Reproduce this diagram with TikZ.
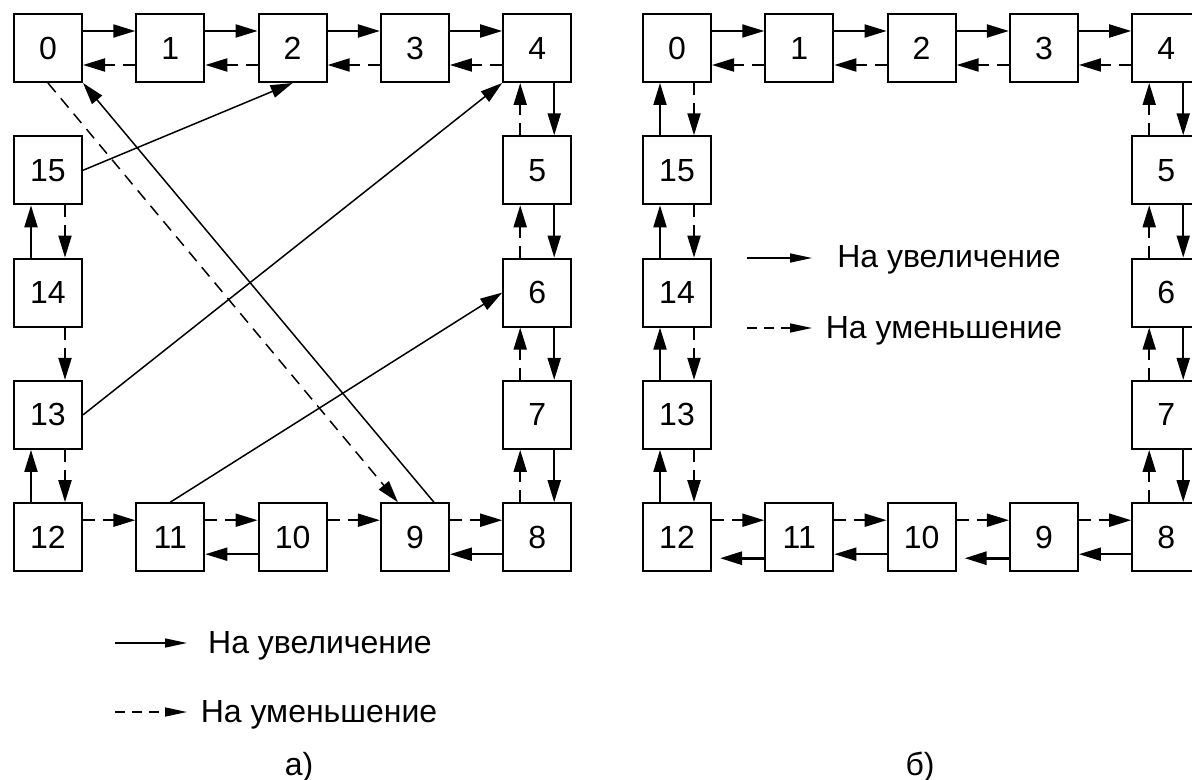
\documentclass[tikz,border=0pt]{standalone}
\usepackage{fontspec}
\setmainfont{Liberation Sans}
\usetikzlibrary{positioning}
\usetikzlibrary{arrows.meta}

\begin{document}
\begin{tikzpicture}[
  x=0.5pt,y=-0.5pt,node distance=26.15pt,
  font=\fontsize{16pt}{19pt}\selectfont,
  cell/.style={draw,line width=1pt,minimum size=34pt,inner sep=0pt},
  inc/.style={line width=1pt,-{Triangle[length=11pt,width=6.5pt]}},
  dec/.style={inc,dash pattern=on 6pt off 4pt},
  cross/.style={line width=0.75pt},
  key/.style={line width=0.75pt,-{Triangle[length=11pt,width=4.5pt]}}
  ]
  \useasboundingbox (0,0) rectangle (1192,780);
  % panel a)
  \node (a0)  [cell] at (48,48) {0};
  \node (a1)  [cell,right=of a0]  {1};
  \node (a2)  [cell,right=of a1]  {2};
  \node (a3)  [cell,right=of a2]  {3};
  \node (a4)  [cell,right=of a3]  {4};
  \node (a5)  [cell,below=of a4]  {5};
  \node (a6)  [cell,below=of a5]  {6};
  \node (a7)  [cell,below=of a6]  {7};
  \node (a8)  [cell,below=of a7]  {8};
  \node (a9)  [cell,left=of a8]   {9};
  \node (a10) [cell,left=of a9]   {10};
  \node (a11) [cell,left=of a10]  {11};
  \node (a12) [cell,left=of a11]  {12};
  \node (a13) [cell,above=of a12] {13};
  \node (a14) [cell,above=of a13] {14};
  \node (a15) [cell,above=of a14] {15};
  % panel b)
  \node (b0)  [cell] at (677,48) {0};
  \node (b1)  [cell,right=of b0]  {1};
  \node (b2)  [cell,right=of b1]  {2};
  \node (b3)  [cell,right=of b2]  {3};
  \node (b4)  [cell,right=of b3]  {4};
  \node (b5)  [cell,below=of b4]  {5};
  \node (b6)  [cell,below=of b5]  {6};
  \node (b7)  [cell,below=of b6]  {7};
  \node (b8)  [cell,below=of b7]  {8};
  \node (b9)  [cell,left=of b8]   {9};
  \node (b10) [cell,left=of b9]   {10};
  \node (b11) [cell,left=of b10]  {11};
  \node (b12) [cell,left=of b11]  {12};
  \node (b13) [cell,above=of b12] {13};
  \node (b14) [cell,above=of b13] {14};
  \node (b15) [cell,above=of b14] {15};

  % links common to both panels
  \foreach \p in {a,b} {
    \foreach \i/\j in {0/1,1/2,2/3,3/4} {
      \draw[inc] ([yshift=8.5pt]\p\i.east) -- ([yshift=8.5pt]\p\j.west);
      \draw[dec] ([yshift=-8.5pt]\p\j.west) -- ([yshift=-8.5pt]\p\i.east);
    }
    \foreach \i/\j in {4/5,5/6,6/7,7/8} {
      \draw[inc] ([xshift=8.5pt]\p\i.south) -- ([xshift=8.5pt]\p\j.north);
      \draw[dec] ([xshift=-8.5pt]\p\j.north) -- ([xshift=-8.5pt]\p\i.south);
    }
    \foreach \i/\j in {12/11,11/10,10/9,9/8}
      \draw[dec] ([yshift=8.5pt]\p\i.east) -- ([yshift=8.5pt]\p\j.west);
    \foreach \i/\j in {10/11,8/9}
      \draw[inc] ([yshift=-8.5pt]\p\i.west) -- ([yshift=-8.5pt]\p\j.east);
  }

  % a) left column and jumps
  \draw[inc] ([xshift=-8.5pt]a14.north) -- ([xshift=-8.5pt]a15.south);
  \draw[dec] ([xshift=8.5pt]a15.south) -- ([xshift=8.5pt]a14.north);
  \draw[dec] ([xshift=8.5pt]a14.south) -- ([xshift=8.5pt]a13.north);
  \draw[inc] ([xshift=-8.5pt]a12.north) -- ([xshift=-8.5pt]a13.south);
  \draw[dec] ([xshift=8.5pt]a13.south) -- ([xshift=8.5pt]a12.north);
  \draw[inc,cross] (a15.east) -- (a2.south);
  \draw[dec,cross] (a0.south) -- ([xshift=-8.5pt]a9.north);
  \draw[inc,cross] ([xshift=9.5pt]a9.north) -- (a0.south east);
  \draw[inc,cross] (a13.east) -- (a4.south west);
  \draw[inc,cross] (a11.north) -- (a6.west);

  % b) left column and bottom row
  \foreach \i/\j in {15/0,14/15,13/14,12/13} {
    \draw[inc] ([xshift=-8.5pt]b\i.north) -- ([xshift=-8.5pt]b\j.south);
    \draw[dec] ([xshift=8.5pt]b\j.south) -- ([xshift=8.5pt]b\i.north);
  }
  \draw[inc,line width=1.4pt,shorten >=4pt] ([yshift=-10.5pt]b11.west) -- ([yshift=-10.5pt]b12.east);
  \draw[inc,line width=1.4pt,shorten >=4pt] ([yshift=-10.5pt]b9.west) -- ([yshift=-10.5pt]b10.east);

  % legends
  \coordinate (upAs) at (115,643);
  \coordinate (upAe) at (187,643);
  \coordinate (downAs) at (115,712);
  \coordinate (downAe) at (187,712);
  \draw[key] (upAs) -- (upAe);
  \draw[key,dash pattern=on 5pt off 3.5pt] (downAs) -- (downAe);
  \node (upA)   [anchor=base] at (320,653) {На увеличение};
  \node (downA) [anchor=base] at (319,722) {На уменьшение};
  \coordinate (upBs) at (747,258);
  \coordinate (upBe) at (812,258);
  \coordinate (downBs) at (747,328);
  \coordinate (downBe) at (812,328);
  \draw[key] (upBs) -- (upBe);
  \draw[key,dash pattern=on 5pt off 3.5pt] (downBs) -- (downBe);
  \node (upB)   [anchor=base] at (949,268) {На увеличение};
  \node (downB) [anchor=base] at (944,338) {На уменьшение};

  % captions
  \node (capA) [anchor=base] at (299,775) {а)};
  \node (capB) [anchor=base] at (920,775) {б)};
\end{tikzpicture}
\end{document}
